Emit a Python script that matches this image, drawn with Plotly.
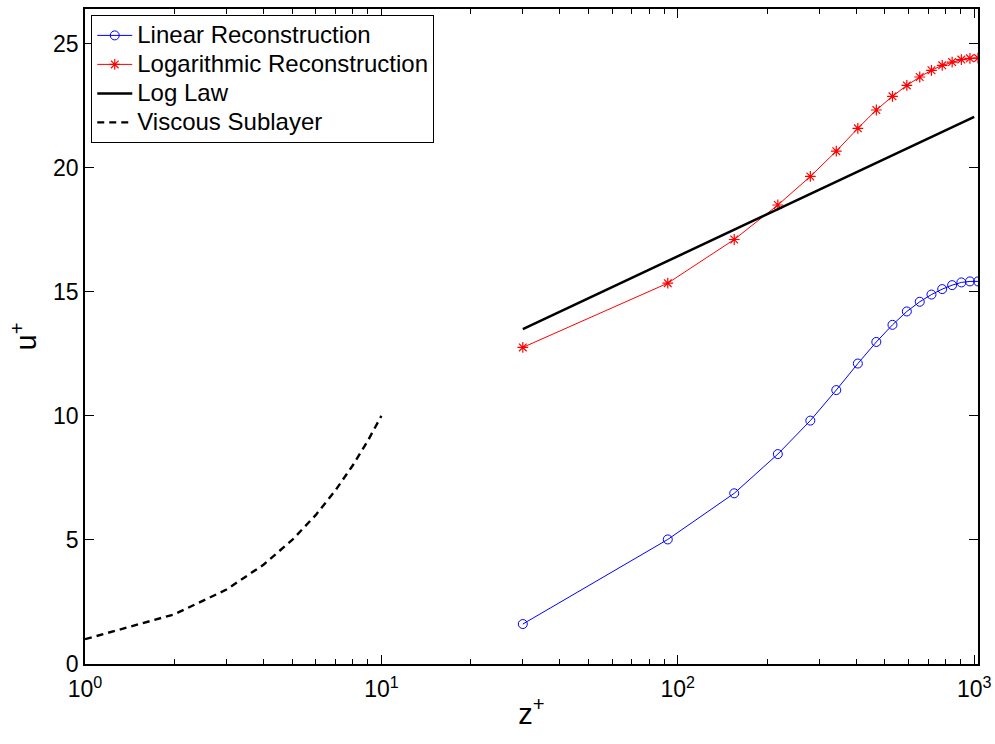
import plotly.graph_objects as go

# ---- data ----
z_recon = [30, 92.5, 155, 217.5, 280, 342.5, 405, 467.5, 530, 592.5, 655,
           717.5, 780, 842.5, 905, 967.5, 1030]
u_linear = [1.61, 5.02, 6.88, 8.46, 9.81, 11.04, 12.11, 12.98, 13.67, 14.21,
            14.60, 14.89, 15.11, 15.27, 15.38, 15.42, 15.42]
u_log = [12.76, 15.35, 17.11, 18.50, 19.65, 20.67, 21.59, 22.33, 22.88, 23.32,
         23.66, 23.93, 24.13, 24.26, 24.36, 24.41, 24.42]
z_loglaw = [30, 100, 1000]
u_loglaw = [13.50, 16.43, 22.05]
z_visc = [1, 2, 3, 4, 5, 6, 7, 8, 9, 10]
u_visc = [1, 2, 3, 4, 5, 6, 7, 8, 9, 10]

series_names = ["Linear Reconstruction", "Logarithmic Reconstruction",
                "Log Law", "Viscous Sublayer"]

x_major = [1, 10, 100, 1000]
x_major_text = ["10<sup>0</sup>", "10<sup>1</sup>", "10<sup>2</sup>", "10<sup>3</sup>"]
x_minor = [m * d for d in (1, 10, 100) for m in range(2, 10)]
y_ticks = [0, 5, 10, 15, 20, 25]

FONT = "Liberation Sans, Arial, sans-serif"


def legend_label(s):
    return '<span style="font-size:24px">' + s + '</span>'


fig = go.Figure()
fig.add_trace(go.Scatter(
    x=z_recon, y=u_linear, mode="lines+markers", name=legend_label(series_names[0]),
    line=dict(color="#0000ff", width=1),
    marker=dict(symbol="circle-open", size=9, color="#0000ff", line=dict(width=1))))
fig.add_trace(go.Scatter(
    x=z_recon, y=u_log, mode="lines+markers", name=legend_label(series_names[1]),
    line=dict(color="#ff0000", width=1),
    marker=dict(symbol="asterisk-open", size=9, color="#ff0000", line=dict(width=1.2, color="#ff0000"))))
fig.add_trace(go.Scatter(
    x=z_loglaw, y=u_loglaw, mode="lines", name=legend_label(series_names[2]),
    line=dict(color="black", width=2.5)))
fig.add_trace(go.Scatter(
    x=z_visc, y=u_visc, mode="lines", name=legend_label(series_names[3]),
    line=dict(color="black", width=2.4, dash="7px,5px")))

fig.update_layout(
    width=995, height=744,
    margin=dict(l=85, r=17, t=9, b=80, autoexpand=False),
    paper_bgcolor="white", plot_bgcolor="white",
    font=dict(family=FONT, size=23, color="black"),
    showlegend=True,
    legend=dict(x=0.007, y=0.991, xanchor="left", yanchor="top",
                bgcolor="white", bordercolor="black", borderwidth=1,
                font=dict(size=20), tracegroupgap=0, itemwidth=35),
)
fig.update_xaxes(
    type="log", range=[0, 3.0128], automargin=False,
    tickmode="array", tickvals=x_major, ticktext=x_major_text,
    ticks="inside", ticklen=9, tickcolor="black", tickwidth=1,
    ticklabelstandoff=4,
    minor=dict(ticks="inside", ticklen=5, tickcolor="black", tickwidth=1,
               tickmode="array", tickvals=x_minor),
    showline=True, linecolor="black", linewidth=1.5, mirror="ticks",
    showgrid=False, zeroline=False,
    tickfont=dict(size=23),
    title=dict(text="z<sup>+</sup>", font=dict(size=29), standoff=2),
)
fig.update_yaxes(
    range=[0, 26.4], automargin=False,
    tickmode="array", tickvals=y_ticks,
    ticks="inside", ticklen=9, tickcolor="black", tickwidth=1,
    showline=True, linecolor="black", linewidth=1.5, mirror="ticks",
    showgrid=False, zeroline=False,
    tickfont=dict(size=23),
    title=dict(text="u<sup>+</sup>", font=dict(size=29), standoff=8),
)

fig.write_html("out.html",
               config={"displayModeBar": False},
               post_script="document.body.style.margin='0';document.body.style.overflow='hidden';")
